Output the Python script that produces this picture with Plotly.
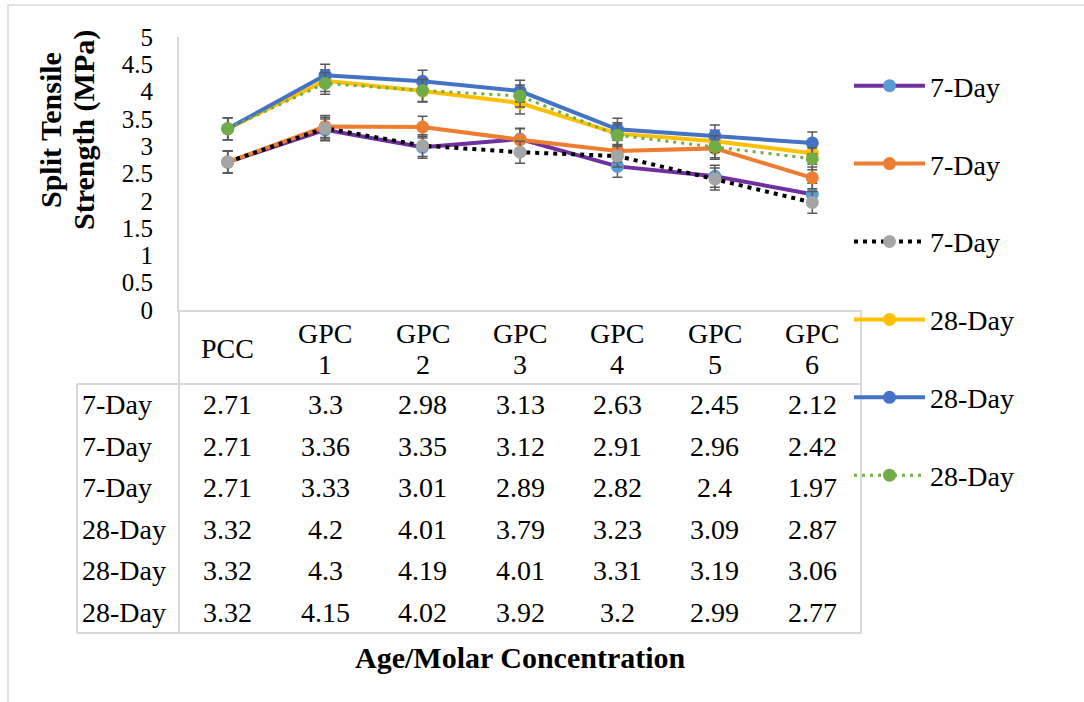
import plotly.graph_objects as go

# ---- data ----
categories = ["PCC", "GPC 1", "GPC 2", "GPC 3", "GPC 4", "GPC 5", "GPC 6"]
series_names = ["7-Day", "7-Day", "7-Day", "28-Day", "28-Day", "28-Day"]
s1_7day = [2.71, 3.3, 2.98, 3.13, 2.63, 2.45, 2.12]
s2_7day = [2.71, 3.36, 3.35, 3.12, 2.91, 2.96, 2.42]
s3_7day = [2.71, 3.33, 3.01, 2.89, 2.82, 2.4, 1.97]
s4_28day = [3.32, 4.2, 4.01, 3.79, 3.23, 3.09, 2.87]
s5_28day = [3.32, 4.3, 4.19, 4.01, 3.31, 3.19, 3.06]
s6_28day = [3.32, 4.15, 4.02, 3.92, 3.2, 2.99, 2.77]
error_value = 0.2
y_tick_vals = [0, 0.5, 1, 1.5, 2, 2.5, 3, 3.5, 4, 4.5, 5]
y_tick_text = ["0", "0.5", "1", "1.5", "2", "2.5", "3", "3.5", "4", "4.5", "5"]

series_values = [s1_7day, s2_7day, s3_7day, s4_28day, s5_28day, s6_28day]

# ---- styles ----
W, H = 1084, 702
L, R, T, B = 179, 861, 37, 310
FONT = "Liberation Serif, Times New Roman, serif"
GRID = "#D9D9D9"

styles = [
    dict(line=dict(color="#7030A0", width=4), marker=dict(color="#5B9BD5", size=13)),
    dict(line=dict(color="#ED7D31", width=4), marker=dict(color="#ED7D31", size=13)),
    dict(line=dict(color="#000000", width=4, dash="4px,5px"), marker=dict(color="#A5A5A5", size=13)),
    dict(line=dict(color="#FFC000", width=4), marker=dict(color="#FFC000", size=13)),
    dict(line=dict(color="#4472C4", width=4), marker=dict(color="#4472C4", size=13)),
    dict(line=dict(color="#70AD47", width=3, dash="3px,5px"), marker=dict(color="#70AD47", size=13)),
]


def px_x(px):
    return (px - L) / (R - L)


def px_y(py):
    return (B - py) / (B - T)


fig = go.Figure()
xs = list(range(len(categories)))
for i, (name, vals) in enumerate(zip(series_names, series_values)):
    fig.add_trace(go.Scatter(
        x=xs, y=vals, name=name, mode="lines+markers",
        line=styles[i]["line"], marker=styles[i]["marker"],
        error_y=dict(type="constant", value=error_value, color="#595959",
                     thickness=1.5, width=5),
        legendgroup=f"g{i}",
    ))

# ---- data table ----
shapes = []
ann = []
row_top = 384
row_bottom = 633
row_left = 77
line = dict(color=GRID, width=2)
shapes.append(dict(type="line", xref="paper", yref="paper", x0=0, x1=0,
                   y0=px_y(B), y1=px_y(row_bottom), line=line))
shapes.append(dict(type="line", xref="paper", yref="paper", x0=1, x1=1,
                   y0=px_y(B), y1=px_y(row_bottom), line=line))
shapes.append(dict(type="line", xref="paper", yref="paper", x0=px_x(row_left), x1=1,
                   y0=px_y(row_top), y1=px_y(row_top), line=line))
shapes.append(dict(type="line", xref="paper", yref="paper", x0=px_x(row_left), x1=1,
                   y0=px_y(row_bottom), y1=px_y(row_bottom), line=line))
shapes.append(dict(type="line", xref="paper", yref="paper", x0=px_x(row_left), x1=px_x(row_left),
                   y0=px_y(row_top), y1=px_y(row_bottom), line=line))
# outer chart border
shapes.append(dict(type="rect", xref="paper", yref="paper", x0=px_x(8), x1=px_x(1095),
                   y0=px_y(5), y1=px_y(715), line=dict(color=GRID, width=1.5)))

tfont = dict(family=FONT, size=28, color="#000000")
for j, cat in enumerate(categories):
    parts = cat.split(" ")
    if len(parts) == 1:
        ann.append(dict(x=j, y=px_y(348), xref="x", yref="paper", text=parts[0],
                        showarrow=False, font=tfont, xanchor="center", yanchor="middle"))
    else:
        ann.append(dict(x=j, y=px_y(333), xref="x", yref="paper", text=parts[0],
                        showarrow=False, font=tfont, xanchor="center", yanchor="middle"))
        ann.append(dict(x=j, y=px_y(364), xref="x", yref="paper", text=parts[1],
                        showarrow=False, font=tfont, xanchor="center", yanchor="middle"))

row_h = (row_bottom - row_top) / len(series_values)
for r, (name, vals) in enumerate(zip(series_names, series_values)):
    yc = px_y(row_top + row_h * (r + 0.5))
    ann.append(dict(x=px_x(80), y=yc, xref="paper", yref="paper", text=name,
                    showarrow=False, font=tfont, xanchor="left", yanchor="middle"))
    for j, v in enumerate(vals):
        ann.append(dict(x=j, y=yc, xref="x", yref="paper", text=f"{v:g}",
                        showarrow=False, font=tfont, xanchor="center", yanchor="middle"))

# axis titles
bfont = dict(family=FONT, size=30, color="#000000")
ann.append(dict(x=px_x(50), y=px_y(130), xref="paper", yref="paper", text="<b>Split Tensile</b>",
                textangle=-90, showarrow=False, font=bfont, xanchor="center", yanchor="middle"))
ann.append(dict(x=px_x(84), y=px_y(130), xref="paper", yref="paper", text="<b>Strength (MPa)</b>",
                textangle=-90, showarrow=False, font=bfont, xanchor="center", yanchor="middle"))
ann.append(dict(x=px_x(520), y=px_y(657), xref="paper", yref="paper", text="<b>Age/Molar Concentration</b>",
                showarrow=False, font=bfont, xanchor="center", yanchor="middle"))

fig.update_layout(
    width=W, height=H,
    margin=dict(l=L, r=W - R, t=T, b=H - B, pad=0),
    paper_bgcolor="white", plot_bgcolor="white",
    font=dict(family=FONT, size=26, color="#000000"),
    showlegend=True,
    legend=dict(x=px_x(849), xanchor="left", y=px_y(61), yanchor="top",
                font=dict(family=FONT, size=28, color="#000000"),
                tracegroupgap=38.5, itemwidth=71, maxheight=650,
                bgcolor="rgba(0,0,0,0)"),
    xaxis=dict(range=[-0.5, len(categories) - 0.5], showticklabels=False, showgrid=False,
               zeroline=False, showline=True, linecolor=GRID, linewidth=2, ticks=""),
    yaxis=dict(range=[0, 5], tickvals=y_tick_vals, ticktext=y_tick_text, showgrid=False,
               zeroline=False, showline=True, linecolor=GRID, linewidth=2, ticks="",
               ticklabelstandoff=19, tickfont=dict(family=FONT, size=25, color="#000000")),
    shapes=shapes, annotations=ann,
)

fig.write_html("out.html", config={"displayModeBar": False},
               post_script="document.body.style.margin='0';document.body.style.padding='0';")
